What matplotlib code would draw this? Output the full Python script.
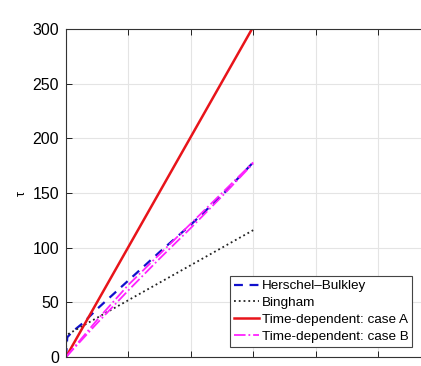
import numpy as np
import matplotlib.pyplot as plt

plt.rcParams['font.family'] = ['Liberation Sans', 'DejaVu Sans']

# shear rate / stress values
x_hb = [0, 0.02, 0.1, 0.27, 0.5, 1.0, 1.5, 2.0, 2.5, 3.0]
t_hb = [0, 18, 23, 31, 44, 70, 96, 121, 148, 178]

x_bi = [0, 0.005, 1.0, 2.0, 3.0]
t_bi = [0, 20, 52, 84, 116]

x_a = [0, 3.0]
t_a = [0, 302]

x_b = [0, 0.5, 1.0, 1.5, 2.0, 2.5, 3.0]
t_b_up = [0, 34, 66, 94, 122, 150, 178]
t_b_dn = [0, 31, 61, 90, 118, 147, 177]

fig = plt.figure(figsize=(4.21, 3.66), dpi=100)
ax = fig.add_axes([66/421, 9/366, 6*62.4/421, 328/366])

ax.plot(x_hb, t_hb, '--', color='#1010cc', lw=1.6, dashes=(4, 3), label='Herschel\u2013Bulkley')
ax.plot(x_bi, t_bi, ':', color='#222222', lw=1.3, label='Bingham')
ax.plot(x_a, t_a, '-', color='#e8141a', lw=1.8, label='Time-dependent: case A')
ax.plot(x_b, t_b_up, '-.', color='#ff22ff', lw=1.3, label='Time-dependent: case B')
ax.plot(x_b, t_b_dn, '-.', color='#ff22ff', lw=1.3)

ax.set_xlim(0, 6)
ax.set_ylim(0, 300)
ax.set_xticks(np.arange(0, 7, 1))
ax.set_yticks(np.arange(0, 301, 50))
ax.tick_params(axis='both', direction='in', top=True, right=True, labelsize=11.5, length=4, width=0.6, pad=5)
ax.tick_params(axis='x', labelbottom=False)
ax.grid(True, color='#e4e4e4', lw=0.8)
ax.set_axisbelow(True)
for s in ax.spines.values():
    s.set_linewidth(0.8)
    s.set_color('#333333')
ax.set_ylabel('\u03c4', fontsize=9, labelpad=3)

leg = ax.legend(loc='lower left', bbox_to_anchor=(230/421, 19/366), bbox_transform=fig.transFigure,
                fontsize=9.7, handlelength=1.85, handletextpad=0.2, labelspacing=0.33,
                borderpad=0.3, fancybox=False, framealpha=1, edgecolor='#444444', borderaxespad=0)
leg.get_frame().set_linewidth(0.8)

fig.savefig('out.png', dpi=100)
